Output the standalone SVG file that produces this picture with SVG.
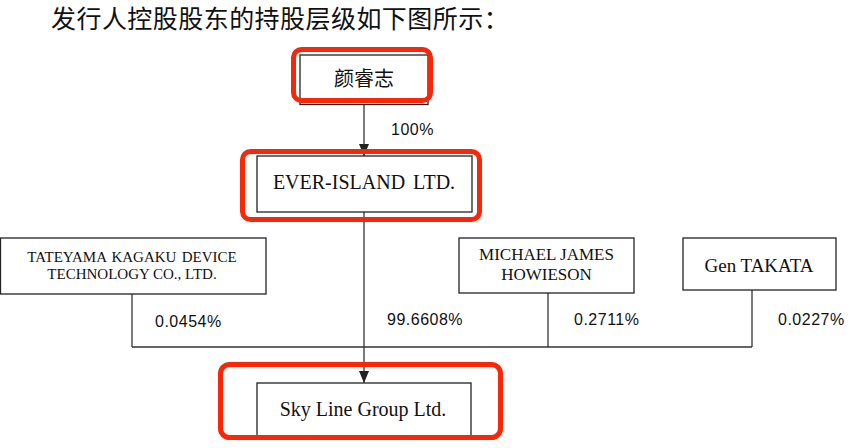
<svg xmlns="http://www.w3.org/2000/svg" width="854" height="448" viewBox="0 0 854 448">
<style>
.box{fill:#fff;stroke:#222;stroke-width:1.3}
.hl{fill:none;stroke:#f8270a;stroke-width:5}
.ln{fill:none;stroke:#333;stroke-width:1.3}
.en{font-family:"Liberation Serif","Times New Roman",serif;fill:#111;text-anchor:middle}
.cn{font-family:"Liberation Serif","Noto Sans CJK SC",serif;fill:#111}
.pc{font-family:"Liberation Sans",Arial,sans-serif;font-size:16px;fill:#111;letter-spacing:0.5px}
</style>
<defs>
<marker id="arr" markerUnits="userSpaceOnUse" markerWidth="12" markerHeight="10" viewBox="0 0 12 10" refX="12" refY="5" orient="auto">
<path d="M0,0 L12,5 L0,10 z" fill="#222"/>
</marker>
</defs>
<rect width="854" height="448" fill="#fff"/>
<text class="cn" x="51" y="28" font-size="25" letter-spacing="0.45">发行人控股股东的持股层级如下图所示：</text>

<g id="connectors">
<line class="ln" x1="364" y1="104.5" x2="364" y2="156" marker-end="url(#arr)"/>
<line class="ln" x1="364" y1="212" x2="364" y2="383" marker-end="url(#arr)"/>
<line class="ln" x1="132" y1="347" x2="752" y2="347"/>
<line class="ln" x1="132" y1="294" x2="132" y2="347"/>
<line class="ln" x1="548" y1="293" x2="548" y2="347"/>
<line class="ln" x1="752" y1="290" x2="752" y2="347"/>
<text class="pc" x="391" y="135">100%</text>
<text class="pc" x="155" y="327">0.0454%</text>
<text class="pc" x="387" y="325">99.6608%</text>
<text class="pc" x="574" y="325">0.2711%</text>
<text class="pc" x="778" y="325">0.0227%</text>
</g>

<g id="node-yan">
<rect class="box" x="300" y="55" width="128" height="49.5"/>
<text class="cn" x="364" y="86" font-size="20" text-anchor="middle">颜睿志</text>
<rect class="hl" x="293.5" y="49.5" width="137" height="51" rx="8"/>
</g>

<g id="node-ever">
<rect class="box" x="257" y="156" width="215" height="56"/>
<text class="en" x="364" y="189" font-size="20" word-spacing="3">EVER-ISLAND LTD.</text>
<rect class="hl" x="242.5" y="151.5" width="237" height="68" rx="8"/>
</g>

<g id="node-tateyama">
<rect class="box" x="0.5" y="238" width="265.5" height="56"/>
<text class="en" x="132" y="262" font-size="15" word-spacing="1.5">TATEYAMA KAGAKU  DEVICE</text>
<text class="en" x="132" y="279" font-size="15">TECHNOLOGY CO., LTD.</text>
</g>

<g id="node-michael">
<rect class="box" x="459" y="238" width="175" height="55"/>
<text class="en" x="546.5" y="260" font-size="17">MICHAEL JAMES</text>
<text class="en" x="546.5" y="279.5" font-size="17">HOWIESON</text>
</g>

<g id="node-gen">
<rect class="box" x="683" y="238" width="153" height="52"/>
<text class="en" x="759" y="272" font-size="19">Gen TAKATA</text>
</g>

<g id="node-skyline">
<rect class="box" x="257" y="383" width="214" height="54"/>
<text class="en" x="363" y="416" font-size="20">Sky Line Group Ltd.</text>
<rect class="hl" x="220.5" y="364.5" width="280" height="73" rx="9"/>
</g>
</svg>
